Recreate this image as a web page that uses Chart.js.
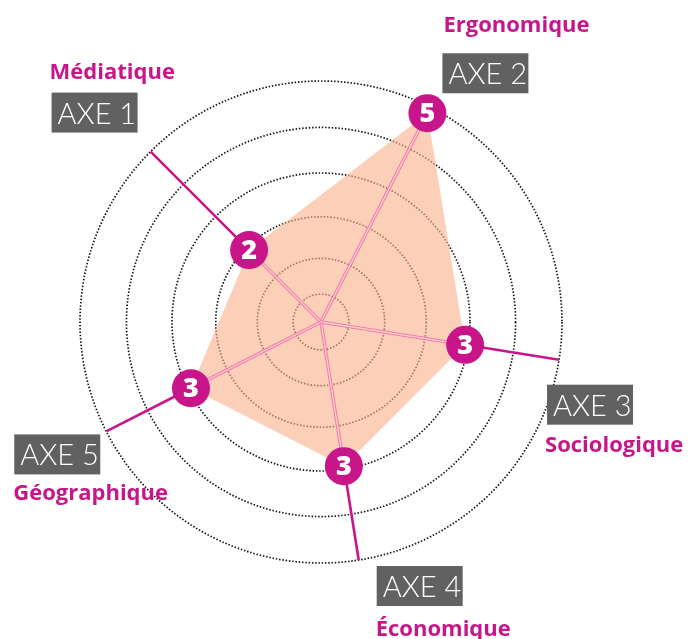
<!DOCTYPE html>
<html>
<head>
<meta charset="utf-8">
<script src="https://cdn.jsdelivr.net/npm/chart.js@4.4.0/dist/chart.umd.min.js"></script>
<style>
  html, body { margin: 0; padding: 0; background: #fff; }
  #wrap { width: 693px; height: 639px; }
</style>
</head>
<body>
<div id="wrap"><canvas id="radar"></canvas></div>
<script>
// data
const axes = ['AXE 1', 'AXE 2', 'AXE 3', 'AXE 4', 'AXE 5'];
const domains = ['Médiatique', 'Ergonomique', 'Sociologique', 'Économique', 'Géographique'];
const scores = [2, 5, 3, 3, 3];
const rings = [0.33, 1.14, 2.08, 3.07, 4.1, 5.15];

const magenta = '#C8168A';
const peach = 'rgba(250, 178, 140, 0.62)';

// label boxes: offset of box centre from the spoke end, title baseline from box centre
const labelLayout = [
  { dx: -56, dy: -39, ty: -33.5, tx: -2 },
  { dx: 55, dy: -34, ty: -41, tx: 1 },
  { dx: 31, dy: 45, ty: 47, tx: -2 },
  { dx: 61, dy: 26, ty: 50, tx: -1 },
  { dx: -49, dy: 23, ty: 46, tx: -1 },
];

const spokes = {
  id: 'spokes',
  afterDatasetDraw(chart, args) {
    if (args.index !== 1) return;
    const r = chart.scales.r;
    const ctx = chart.ctx;
    ctx.save();
    scores.forEach((v, i) => {
      const p = r.getPointPositionForValue(i, v);
      const end = r.getPointPositionForValue(i, r.max);
      // inner double line
      ctx.beginPath();
      ctx.moveTo(r.xCenter, r.yCenter);
      ctx.lineTo(p.x, p.y);
      ctx.strokeStyle = 'rgba(236, 110, 180, 0.85)';
      ctx.lineWidth = 3.4;
      ctx.stroke();
      ctx.strokeStyle = '#FCD2BE';
      ctx.lineWidth = 1.3;
      ctx.stroke();
      // outer solid line
      ctx.beginPath();
      ctx.moveTo(p.x, p.y);
      ctx.lineTo(end.x, end.y);
      ctx.strokeStyle = magenta;
      ctx.lineWidth = 2.6;
      ctx.stroke();
    });
    ctx.restore();
  },
  afterDatasetsDraw(chart) {
    const ctx = chart.ctx;
    const meta = chart.getDatasetMeta(0);
    ctx.save();
    ctx.fillStyle = '#fff';
    ctx.font = '800 27px "Open Sans", "DejaVu Sans", sans-serif';
    ctx.textAlign = 'center';
    ctx.textBaseline = 'middle';
    meta.data.forEach((pt, i) => {
      ctx.fillText(String(scores[i]), pt.x, pt.y + 1);
    });
    ctx.restore();
  },
  afterDraw(chart) {
    const r = chart.scales.r;
    const ctx = chart.ctx;
    ctx.save();
    axes.forEach((label, i) => {
      const end = r.getPointPositionForValue(i, r.max);
      const L = labelLayout[i];
      const cx = end.x + L.dx, cy = end.y + L.dy;
      const bx = cx - 43, by = cy - 20;
      ctx.fillStyle = '#616161';
      ctx.fillRect(bx, by, 86, 40);
      ctx.fillStyle = '#fff';
      ctx.font = '300 29px Lato, "Open Sans", sans-serif';
      ctx.textAlign = 'left';
      ctx.textBaseline = 'alphabetic';
      ctx.fillText(label, bx + 6, by + 31);
      ctx.fillStyle = magenta;
      ctx.font = '700 22px "Open Sans", sans-serif';
      ctx.fillText(domains[i], bx + L.tx, cy + L.ty);
    });
    ctx.restore();
  }
};

new Chart(document.getElementById('radar'), {
  type: 'radar',
  data: {
    labels: axes,
    datasets: [
      {
        data: scores,
        showLine: false,
        fill: false,
        borderWidth: 0,
        backgroundColor: 'transparent',
        pointRadius: 19,
        pointHoverRadius: 19,
        pointBorderWidth: 0,
        pointBackgroundColor: magenta,
      },
      {
        data: scores,
        fill: 'start',
        borderWidth: 0,
        backgroundColor: peach,
        pointRadius: 0,
      },
    ],
  },
  options: {
    responsive: true,
    maintainAspectRatio: false,
    animation: false,
    events: [],
    layout: { padding: { left: 80, right: 131, top: 81, bottom: 76 } },
    plugins: {
      legend: { display: false },
      tooltip: { enabled: false },
    },
    scales: {
      r: {
        min: -0.3,
        max: 5.15,
        startAngle: -45,
        afterBuildTicks: (scale) => {
          scale.ticks = rings.map((v) => ({ value: v }));
        },
        ticks: { display: false },
        pointLabels: { display: false },
        angleLines: { display: false },
        grid: { circular: true, color: '#151515', lineWidth: 1.7 },
        border: { dash: [1.5, 1.8] },
      },
    },
  },
  plugins: [spokes],
});
</script>
</body>
</html>
